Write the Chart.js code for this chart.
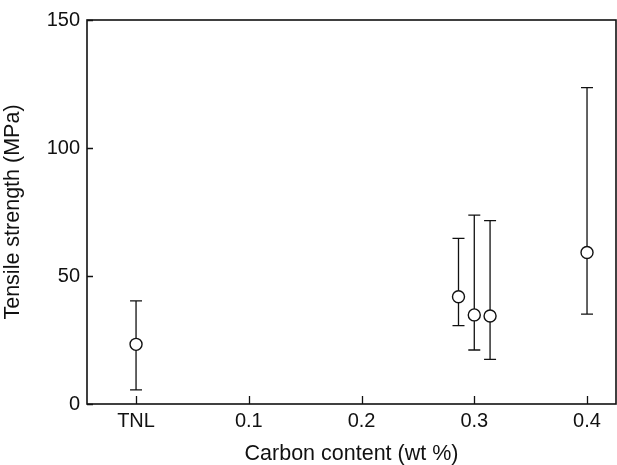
<!DOCTYPE html>
<html>
<head>
<meta charset="utf-8">
<script src="https://cdn.jsdelivr.net/npm/chart.js@4/dist/chart.umd.min.js"></script>
<style>
  html, body { margin: 0; padding: 0; background: #fff; }
  #wrap { width: 617px; height: 465px; }
</style>
</head>
<body>
<div id="wrap"><canvas id="c" width="617" height="465"></canvas></div>
<script>
// values
const carbon   = [0, 0.286, 0.300, 0.314, 0.400];   // 0 = TNL
const strength = [23.3, 41.9, 34.8, 34.4, 59.2];
const errLow   = [5.5, 30.6, 21.1, 17.4, 35.1];
const errHigh  = [40.3, 64.7, 73.8, 71.6, 123.6];

const xTicks      = [0, 0.1, 0.2, 0.3, 0.4];
const xTickLabels = ["TNL", "0.1", "0.2", "0.3", "0.4"];
const yTicks      = [0, 50, 100, 150];

const tickFont  = { family: "'Liberation Sans', Arial, sans-serif", size: 20, lineHeight: 1.2 };
const titleFont = { family: "'Liberation Sans', Arial, sans-serif", size: 21.5, lineHeight: 1 };

// error bars, frame and inward ticks
const extras = {
  id: "extras",
  beforeDatasetsDraw(chart) {
    const { ctx } = chart;
    const xs = chart.scales.x, ys = chart.scales.y;
    ctx.save();
    ctx.strokeStyle = "#111";
    ctx.lineWidth = 1.3;
    carbon.forEach((c, i) => {
      const px = xs.getPixelForValue(c);
      const lo = ys.getPixelForValue(errLow[i]);
      const hi = ys.getPixelForValue(errHigh[i]);
      ctx.beginPath();
      ctx.moveTo(px, lo); ctx.lineTo(px, hi);
      ctx.moveTo(px - 6, lo); ctx.lineTo(px + 6, lo);
      ctx.moveTo(px - 6, hi); ctx.lineTo(px + 6, hi);
      ctx.stroke();
    });
    ctx.restore();
  },
  afterDraw(chart) {
    const { ctx, chartArea: a } = chart;
    const xs = chart.scales.x, ys = chart.scales.y;
    ctx.save();
    ctx.strokeStyle = "#111";
    ctx.lineWidth = 1.6;
    ctx.strokeRect(a.left, a.top, a.right - a.left, a.bottom - a.top);
    ctx.lineWidth = 1.3;
    ctx.beginPath();
    xTicks.forEach(v => {
      const px = Math.round(xs.getPixelForValue(v)) + 0.5;
      ctx.moveTo(px, a.bottom); ctx.lineTo(px, a.bottom - 8);
    });
    yTicks.forEach(v => {
      const py = Math.round(ys.getPixelForValue(v)) + 0.5;
      ctx.moveTo(a.left, py); ctx.lineTo(a.left + 6, py);
    });
    ctx.stroke();
    ctx.restore();
  }
};

new Chart(document.getElementById("c"), {
  type: "scatter",
  data: {
    datasets: [{
      data: carbon.map((c, i) => ({ x: c, y: strength[i] })),
      showLine: false,
      pointRadius: 6,
      pointHoverRadius: 6,
      pointBackgroundColor: "#fff",
      pointBorderColor: "#111",
      pointBorderWidth: 1.4
    }]
  },
  options: {
    responsive: false,
    animation: false,
    layout: { autoPadding: false, padding: { top: 20, right: 1, left: 0, bottom: 0 } },
    plugins: { legend: { display: false }, tooltip: { enabled: false } },
    scales: {
      x: {
        type: "linear",
        min: -0.0435,
        max: 0.4257,
        afterBuildTicks: s => { s.ticks = xTicks.map(v => ({ value: v })); },
        afterFit: s => { s.height = 61; s.paddingLeft = 0; s.paddingRight = 0; },
        grid: { display: false, drawTicks: false },
        border: { display: false },
        ticks: {
          color: "#111",
          font: tickFont,
          padding: 5,
          maxRotation: 0,
          callback: v => xTickLabels[xTicks.indexOf(v)] ?? ""
        },
        title: {
          display: true,
          text: "Carbon content (wt %)",
          color: "#111",
          font: titleFont,
          padding: { top: 0, bottom: 0 }
        }
      },
      y: {
        min: 0,
        max: 150,
        afterBuildTicks: s => { s.ticks = yTicks.map(v => ({ value: v })); },
        afterFit: s => { s.width = 87; s.paddingTop = 0; s.paddingBottom = 0; },
        grid: { display: false, drawTicks: false },
        border: { display: false },
        ticks: { color: "#111", font: tickFont, padding: 7 },
        title: {
          display: true,
          text: "Tensile strength (MPa)",
          color: "#111",
          font: titleFont,
          padding: { top: 2, bottom: 0 }
        }
      }
    }
  },
  plugins: [extras]
});
</script>
</body>
</html>
